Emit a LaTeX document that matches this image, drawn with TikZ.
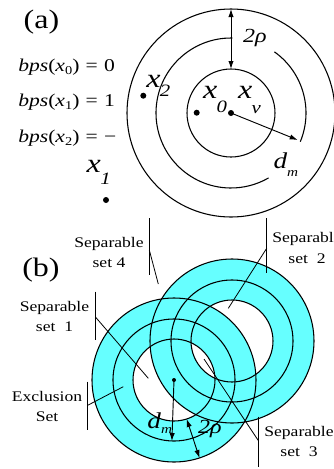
\documentclass[tikz,border=0pt]{standalone}
\usepackage{fontspec}
\setmainfont[FakeStretch=1.2]{Liberation Serif}
\usetikzlibrary{arrows.meta}
\definecolor{ringcyan}{RGB}{102,255,255}

\newcommand{\xlab}[2]{{\fontsize{20}{20}\selectfont\itshape x}\kern-0.5pt\raisebox{-#2}{\fontsize{13}{13}\selectfont\itshape #1}}
\newcommand{\bpslab}[2]{{\itshape bps}({\itshape x}\raisebox{-2pt}{\fontsize{9}{9}\selectfont #1})\hspace{0.35em}=\hspace{0.35em}#2}
\newcommand{\dmlab}[1]{{\fontsize{17}{17}\selectfont\itshape d}\raisebox{-#1}{\fontsize{9.5}{9.5}\selectfont\itshape m}}
\newcommand{\tworho}{{\fontsize{15}{15}\selectfont\itshape 2ρ}}

\begin{document}
\begin{tikzpicture}[
      x=0.75pt, y=-0.75pt,
      ring/.style = {draw, line width=0.8pt},
      lbl/.style  = {align=center, inner sep=0pt, font=\fontsize{11}{15.3}\selectfont},
      lead/.style = {line width=0.6pt},
      dot/.style  = {fill, circle, inner sep=0pt, minimum size=4.5pt},
      arr/.style  = {-{Latex[length=6pt,width=4pt]}, line width=0.7pt},
      darr/.style = {{Latex[length=6pt,width=4pt]}-{Latex[length=6pt,width=4pt]}, line width=0.7pt},
      sym/.style  = {inner sep=0pt},
    ]
    \useasboundingbox (0,0) rectangle (333,469);

    % (a) one vehicle and its rings
    \coordinate (V) at (231,113);
    \draw[ring] (V) circle[radius=104];
    \draw[ring] (V) circle[radius=44];
    \draw[ring] (V) ++(-89:75) arc[start angle=-89, end angle=-300, radius=75];
    \draw[ring] (V) ++(22.5:75) arc[start angle=22.5, end angle=-54.6, radius=75];

    \node[sym, font=\fontsize{20}{20}\selectfont] (tag a) at (41.5,21.7) {(a)};
    \node[sym, anchor=west, font=\fontsize{13.5}{13.5}\selectfont] (bps0) at (18,67) {\bpslab{0}{0}};
    \node[sym, anchor=west, font=\fontsize{13.5}{13.5}\selectfont] (bps1) at (18,102.5) {\bpslab{1}{1}};
    \node[sym, anchor=west, font=\fontsize{13.5}{13.5}\selectfont] (bps2) at (18,138) {\bpslab{2}{−}};

    \coordinate (rtop) at (231,9);
    \coordinate (rin) at (231,69);
    \draw[darr] (rtop) -- (rin);
    \node[sym] (rho a) at (255,38.3) {\tworho};

    \node[dot] (xv) at (231,113) {};
    \node[dot] (x0) at (196.7,112.7) {};
    \node[dot] (x2) at (143.3,95.7) {};
    \node[dot] (x1) at (106,200) {};
    \coordinate (dm tip) at (297.7,140);
    \draw[arr] (xv.center) -- (dm tip);

    \node[sym] (lab x0) at (215,99.4) {\xlab{0}{10pt}};
    \node[sym] (lab xv) at (249.4,100) {\xlab{v}{11pt}};
    \node[sym] (lab x2) at (158.3,86) {\xlab{2}{7pt}};
    \node[sym] (lab x1) at (98.7,172.5) {\xlab{1}{8.5pt}};
    \node[sym] (dm a) at (285.8,165) {\dmlab{6pt}};

    % (b) two overlapping rings
    \coordinate (L) at (174,380);
    \coordinate (R) at (232,341);
    \foreach \c in {L,R}
      \fill[ringcyan, even odd rule] (\c) circle[radius=82] (\c) circle[radius=41];
    \foreach \c in {L,R}
      \foreach \r in {41,61,82}
        \draw[ring] (\c) circle[radius=\r];

    \node[sym, font=\fontsize{20}{20}\selectfont] (tag b) at (41,270) {(b)};

    \node[dot, minimum size=3pt] (cL) at (L) {};
    \coordinate (dm end) at (171.9,441);
    \draw[arr] (cL.center) -- (dm end);
    \node[sym] (dm b) at (159.7,423.3) {\dmlab{4pt}};
    \coordinate (rho in) at (186.7,419);
    \coordinate (rho out) at (199.5,458);
    \draw[darr] (rho in) -- (rho out);
    \node[sym] (rho b) at (210,429) {\tworho};

    % labels with their brackets and leaders
    \node[lbl] (set4) at (109,252.5) {Separable\\set 4};
    \coordinate (s4a) at (149.3,218);
    \coordinate (s4b) at (149.3,275);
    \coordinate (s4m) at (149.3,250);
    \coordinate (s4t) at (158.3,284);
    \draw[lead] (s4a) -- (s4b);
    \draw[lead] (s4m) -- (s4t);

    \node[lbl] (set1) at (54.5,316.7) {Separable\\set~~1};
    \coordinate (s1a) at (95.7,291.7);
    \coordinate (s1b) at (95.7,340);
    \coordinate (s1m) at (95.7,317.3);
    \coordinate (s1t) at (148.3,378.3);
    \draw[lead] (s1a) -- (s1b);
    \draw[lead] (s1m) -- (s1t);

    \node[lbl] (excl) at (47,406.3) {Exclusion\\Set};
    \coordinate (exa) at (87.3,381.7);
    \coordinate (exb) at (87.3,430);
    \coordinate (exm) at (87.3,405.5);
    \coordinate (ext) at (123.3,386.7);
    \draw[lead] (exa) -- (exb);
    \draw[lead] (exm) -- (ext);

    \node[lbl] (set2) at (307,248) {Separable\\set~~2};
    \coordinate (s2a) at (266.7,218);
    \coordinate (s2b) at (266.7,272.7);
    \coordinate (s2m) at (266.7,248.3);
    \coordinate (s2t) at (228.3,308.3);
    \draw[lead] (s2a) -- (s2b);
    \draw[lead] (s2m) -- (s2t);

    \node[lbl] (set3) at (299,441.7) {Separable\\set~~3};
    \coordinate (s3a) at (258.3,416.7);
    \coordinate (s3b) at (258.3,466.7);
    \coordinate (s3m) at (258.3,440.5);
    \coordinate (s3t) at (204,359);
    \draw[lead] (s3a) -- (s3b);
    \draw[lead] (s3m) -- (s3t);
  \end{tikzpicture}
\end{document}
